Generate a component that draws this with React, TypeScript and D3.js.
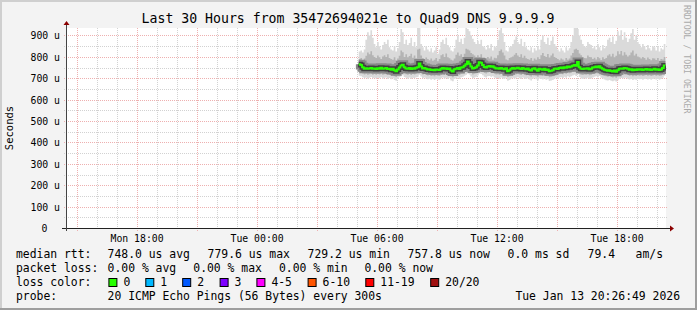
import React from "react";
import * as d3 from "d3";

const W = 697;
const H = 310;
const END = Date.UTC(2026, 0, 13, 20, 26, 49);
const START = END - 30 * 3600 * 1000;
const FIRST = Date.UTC(2026, 0, 13, 5, 5, 0);
const STEP = 300 * 1000;

const titleText = "Last 30 Hours from 35472694021e to Quad9 DNS 9.9.9.9";

// median rtt in microseconds
const median = [
  766, 762, 752,
  745, 747, 744, 746, 748, 745, 746, 743,
  747, 745, 749, 744, 746, 748, 743, 745,
  740, 744, 737, 733, 741, 750,
  760, 763, 752,
  746, 744, 748, 743, 747, 745, 749, 752,
  769,
  755, 746, 748, 745,
  741, 742, 739, 740, 738, 741, 740, 739,
  745, 748, 744, 747, 743, 746,
  736, 732, 742,
  745, 748, 743, 750, 752, 758, 765,
  778,
  768, 755,
  746, 748, 752, 760,
  775, 772,
  762, 753, 750,
  755, 757, 754, 756,
  750, 746,
  747, 744, 748, 745, 742, 747,
  733, 738,
  745, 748, 744, 747, 749, 746, 743, 748, 745, 742,
  746, 740, 736, 744, 747, 741, 735, 745,
  742, 740, 744, 739, 741,
  733, 735, 738,
  744, 746, 743, 748, 750, 747, 752, 749, 755,
  751, 755, 758,
  762, 758,
  776,
  752, 745, 743, 746, 744, 747, 742, 745,
  750, 752, 755, 751, 756, 749, 745,
  740, 737, 735, 738, 734, 732, 736, 731, 737,
  744, 746, 745, 748, 747, 744,
  740, 742, 738, 741, 739, 742,
  740, 742, 739, 741, 743, 740, 742, 739, 741, 744, 740, 742, 739, 741,
  748, 760,
];

// highest ping per step
const smokeMax = [
  825, 830, 820, 835,
  880, 915, 900, 925, 890,
  860, 845, 870, 850, 835, 855,
  870, 860, 880, 845,
  835, 830, 850, 825, 840,
  870, 930, 915, 860,
  880, 855, 865, 890, 850, 870, 845,
  935, 940,
  860, 845, 830, 850,
  835, 825, 840, 820, 830, 845, 815, 835,
  870, 880, 860, 890, 855, 845,
  830, 825, 840,
  880, 900, 870, 885, 860,
  890, 935, 930, 920, 900, 885, 870, 860,
  875, 860, 880, 850,
  845, 835, 855, 840, 860, 830, 850, 845,
  880, 925, 935, 910, 870,
  830, 825, 845, 850, 860,
  880, 895, 870, 860, 885, 850, 870, 845,
  835, 830, 845, 820, 840, 830, 850, 835,
  880, 900, 870, 860, 890, 855, 875, 895, 860, 850,
  835, 825, 840, 830, 820, 845, 830, 840,
  870, 900, 935, 940, 930, 900, 880, 860, 850,
  845, 870, 860, 855, 840,
  850, 835, 860, 845, 830, 855, 840, 850,
  880, 890, 870, 895, 860, 875,
  920, 900, 925, 880, 915, 890, 870, 885,
  910, 930, 880, 900, 870, 860,
  845, 860, 850, 835, 855, 840, 830, 850,
  845, 830, 850, 825, 840, 835, 860,
];

// upper pings (about 90th percentile)
const smokeHi = [
  790, 795, 785, 792,
  805, 820, 812, 826, 808,
  800, 795, 806, 798, 790, 802,
  808, 800, 812, 795,
  790, 786, 798, 784, 792,
  805, 830, 822, 800,
  812, 798, 804, 815, 796, 806, 794,
  835, 838,
  806, 795, 788, 797,
  790, 784, 792, 782, 787, 795, 780, 790,
  808, 812, 800, 816, 798, 794,
  786, 783, 792,
  810, 820, 805, 812, 800,
  815, 838, 835, 830, 818, 812, 806, 800,
  808, 800, 812, 795,
  794, 788, 800, 792, 802, 786, 796, 793,
  808, 828, 835, 820, 806,
  788, 784, 795, 798, 802,
  810, 818, 806, 800, 812, 796, 805, 793,
  790, 786, 795, 782, 792, 786, 798, 790,
  808, 818, 804, 800, 814, 797, 806, 816, 800, 795,
  790, 784, 792, 788, 782, 795, 787, 792,
  806, 818, 835, 838, 832, 816, 808, 800, 795,
  793, 806, 800, 798, 790,
  796, 788, 800, 794, 785, 798, 790, 795,
  806, 812, 802, 815, 798, 805,
  826, 812, 828, 806, 822, 810, 802, 808,
  820, 830, 806, 815, 802, 798,
  792, 800, 795, 786, 797, 790, 784, 794,
  792, 785, 795, 782, 790, 788, 800,
];

// lower pings (about 10th percentile)
const smokeLo = [
  730, 728, 722,
  718, 721, 716, 719, 722, 717, 720, 716,
  720, 718, 722, 716, 719, 721, 715, 718,
  713, 717, 710, 706, 714, 722,
  728, 731, 724,
  719, 716, 721, 715, 720, 718, 722, 724,
  735,
  726, 718, 721, 717,
  713, 715, 711, 713, 710, 714, 712, 711,
  717, 721, 716, 720, 715, 719,
  709, 705, 714,
  718, 721, 715, 722, 724, 729, 734,
  742,
  736, 726,
  718, 721, 724, 730,
  740, 738,
  732, 725, 722,
  727, 729, 725, 728,
  722, 718,
  719, 716, 721, 717, 714, 719,
  706, 710,
  717, 720, 716, 719, 722, 718, 715, 721, 717, 714,
  718, 712, 708, 716, 720, 713, 707, 717,
  714, 712, 717, 711, 713,
  705, 707, 710,
  716, 719, 715, 721, 722, 719, 724, 721, 727,
  723, 727, 730,
  733, 729,
  741,
  724, 717, 715, 718, 716, 719, 714, 717,
  722, 724, 727, 723, 728, 721, 717,
  712, 709, 707, 710, 706, 704, 708, 703, 709,
  716, 718, 717, 720, 719, 716,
  712, 714, 710, 713, 711, 714,
  712, 714, 711, 713, 715, 712, 714, 711, 713, 716, 712, 714, 711, 713,
  719, 730,
];

// lowest ping per step
const smokeMin = [
  712, 710, 705,
  700, 704, 698, 702, 706, 700, 703, 699,
  703, 700, 705, 698, 702, 704, 697, 701,
  695, 700, 692, 688, 697, 705,
  710, 714, 706,
  702, 698, 704, 697, 703, 700, 705, 707,
  716,
  708, 700, 704, 699,
  695, 698, 693, 696, 692, 697, 694, 693,
  700, 704, 698, 703, 697, 702,
  690, 686, 696,
  700, 704, 697, 705, 707, 712, 716,
  722,
  718, 708,
  700, 704, 707, 713,
  722, 720,
  714, 707, 704,
  709, 711, 707, 710,
  704, 700,
  701, 698, 704, 699, 696, 702,
  688, 692,
  699, 703, 698, 702, 705, 700, 697, 704, 699, 696,
  700, 694, 690, 698, 703, 695, 689, 699,
  696, 694, 699, 693, 695,
  687, 689, 692,
  698, 702, 697, 704, 705, 701, 707, 703, 710,
  705, 710, 713,
  716, 711,
  722,
  706, 699, 697, 700, 698, 702, 696, 699,
  704, 707, 710, 705, 711, 703, 699,
  694, 691, 689, 692, 688, 686, 690, 685, 691,
  698, 701, 699, 703, 702, 698,
  694, 697, 692, 695, 693, 697,
  695, 697, 693, 696, 698, 694, 697, 693, 696, 699, 694, 697, 693, 696,
  702, 712,
];

const yMajor = [0, 100, 200, 300, 400, 500, 600, 700, 800, 900];
const yMinor = [50, 150, 250, 350, 450, 550, 650, 750, 850];
const yLabels = ["0", "100 u", "200 u", "300 u", "400 u", "500 u", "600 u", "700 u", "800 u", "900 u"];

const xLabelTimes = [
  Date.UTC(2026, 0, 12, 18, 0, 0),
  Date.UTC(2026, 0, 13, 0, 0, 0),
  Date.UTC(2026, 0, 13, 6, 0, 0),
  Date.UTC(2026, 0, 13, 12, 0, 0),
  Date.UTC(2026, 0, 13, 18, 0, 0),
];
const xLabels = ["Mon 18:00", "Tue 00:00", "Tue 06:00", "Tue 12:00", "Tue 18:00"];

const rttLegend = [
  { text: "median rtt:", x: 16 },
  { text: "748.0 us avg", x: 107.6 },
  { text: "779.6 us max", x: 207.6 },
  { text: "729.2 us min", x: 307.6 },
  { text: "757.8 us now", x: 407.6 },
  { text: "0.0 ms sd", x: 507.6 },
  { text: "79.4", x: 587.6 },
  { text: "am/s", x: 635.6 },
];
const lossLegend = [
  { text: "packet loss:", x: 16 },
  { text: "0.00 % avg", x: 107.6 },
  { text: "0.00 % max", x: 193.3 },
  { text: "0.00 % min", x: 279 },
  { text: "0.00 % now", x: 364.4 },
];
const lossColorLabels = ["0", "1", "2", "3", "4-5", "6-10", "11-19", "20/20"];
const lossColors = ["#26ff00", "#00b8ff", "#0059ff", "#7e00ff", "#ff00ff", "#ff5500", "#ff0000", "#a01010"];
const lossSwatchX = [108.4, 145.3, 182.2, 219.6, 256.4, 307.6, 365.3, 430.2];

const MONO = "'DejaVu Sans Mono', monospace";

export default function App() {
  const n = Math.min(median.length, smokeMax.length, smokeHi.length, smokeLo.length, smokeMin.length);
  const X0 = 66, X1 = 666, Y0 = 228, Y1 = 28;
  const x = d3.scaleLinear().domain([START, END]).range([X0, X1]);
  const y = d3.scaleLinear().domain([0, 935]).range([Y0, Y1]);

  const pts = d3.range(n + 1).map((i) => ({ t: FIRST + i * STEP, k: Math.min(i, n - 1) }));
  const band = (lo: number[], hi: number[]) =>
    d3.area<any>()
      .x((p) => x(p.t))
      .y0((p) => y(lo[p.k]))
      .y1((p) => y(hi[p.k]))
      .curve(d3.curveStepAfter)(pts) || "";
  const medLine =
    d3.line<any>()
      .x((p) => x(p.t))
      .y((p) => y(median[p.k]))
      .curve(d3.curveStepAfter)(pts) || "";

  const hours = d3.utcHour.range(new Date(START), new Date(END));
  const crisp = (v: number) => Math.round(v) + 0.5;

  return (
    <svg
      width={W}
      height={H}
      style={{ position: "fixed", left: 0, top: 0, display: "block" }}
      xmlns="http://www.w3.org/2000/svg"
    >
      <rect x={0} y={0} width={W} height={H} fill="#f3f3f3" />
      {/* border shading */}
      <rect x={0} y={0} width={W} height={2} fill="#cfcfcf" />
      <rect x={0} y={0} width={2} height={H} fill="#cfcfcf" />
      <rect x={W - 2} y={0} width={2} height={H} fill="#9e9e9e" />
      <rect x={0} y={H - 2} width={W} height={2} fill="#9e9e9e" />

      {/* canvas */}
      <rect x={X0} y={Y1} width={X1 - X0} height={Y0 - Y1} fill="#ffffff" />

      {/* minor grid */}
      {hours.filter((h) => h.getUTCHours() % 3 !== 0).map((h, i) => (
        <line key={"vm" + i} x1={crisp(x(+h))} x2={crisp(x(+h))} y1={Y1} y2={Y0}
          stroke="#d2d2d2" strokeDasharray="1,1" strokeWidth={1} />
      ))}
      {yMinor.map((v, i) => (
        <line key={"hm" + i} x1={X0 - 2} x2={X1 + 2} y1={crisp(y(v))} y2={crisp(y(v))}
          stroke="#d2d2d2" strokeDasharray="1,1" strokeWidth={1} />
      ))}
      {/* major grid */}
      {hours.filter((h) => h.getUTCHours() % 3 === 0).map((h, i) => (
        <line key={"vM" + i} x1={crisp(x(+h))} x2={crisp(x(+h))} y1={Y1} y2={Y0 + 3}
          stroke="#eeb0b0" strokeDasharray="1,1" strokeWidth={1} />
      ))}
      {yMajor.filter((v) => v > 0).map((v, i) => (
        <line key={"hM" + i} x1={X0 - 2} x2={X1 + 2} y1={crisp(y(v))} y2={crisp(y(v))}
          stroke="#eeb0b0" strokeDasharray="1,1" strokeWidth={1} />
      ))}

      <defs>
        <clipPath id="plotclip">
          <rect x={X0} y={Y1} width={X1 - X0} height={Y0 - Y1} />
        </clipPath>
      </defs>
      <g clipPath="url(#plotclip)">
        <path d={band(smokeMin, smokeMax)} fill="#dadada" />
        <path d={band(smokeLo, smokeHi)} fill="#b4b4b4" />
        <path d={medLine} fill="none" stroke="#888888" strokeWidth={9} />
        <path d={medLine} fill="none" stroke="#404040" strokeWidth={5} />
        <path d={medLine} fill="none" stroke="#26ff00" strokeWidth={2} />
      </g>

      {/* axes */}
      <line x1={62} x2={670} y1={Y0 + 0.5} y2={Y0 + 0.5} stroke="#222" strokeWidth={1} />
      <path d={`M${670},${Y0 - 2.5} L${674},${Y0 + 0.5} L${670},${Y0 + 3.5} Z`} fill="#8b0000" />
      <line x1={X0 + 0.5} x2={X0 + 0.5} y1={Y0 + 3} y2={Y1 - 4} stroke="#444" strokeWidth={1} />
      <path d={`M${X0 - 2.5},${Y1 - 3} L${X0 + 0.5},${Y1 - 7} L${X0 + 3.5},${Y1 - 3} Z`} fill="#8b0000" />

      {/* y labels */}
      {yMajor.map((v, i) => (
        <text key={"yl" + i} x={v === 0 ? 47.5 : 60} y={crisp(y(v))} dy="0.35em" textAnchor="end"
          fontFamily={MONO} fontSize={9.8} fill="#000">
          {yLabels[i]}
        </text>
      ))}
      {/* x labels */}
      {xLabelTimes.map((t, i) => (
        <text key={"xl" + i} x={x(t)} y={241.5} textAnchor="middle" fontFamily={MONO} fontSize={9.8} fill="#000">
          {xLabels[i]}
        </text>
      ))}

      {/* y title */}
      <text transform="translate(13,128) rotate(-90)" textAnchor="middle" fontFamily={MONO} fontSize={10.5} fill="#000">
        Seconds
      </text>

      {/* title */}
      <text x={348} y={23} textAnchor="middle" fontFamily={MONO} fontSize={13.2} fill="#000">
        {titleText}
      </text>

      {/* watermark */}
      <text transform="translate(684,5) rotate(90)" fontFamily={MONO} fontSize={8.2} fill="#aaaaaa">
        RRDTOOL / TOBI OETIKER
      </text>

      {/* legend */}
      {rttLegend.map((d, i) => (
        <text key={"rl" + i} x={d.x} y={258} fontFamily={MONO} fontSize={11.4} fill="#000">{d.text}</text>
      ))}
      {lossLegend.map((d, i) => (
        <text key={"ll" + i} x={d.x} y={272} fontFamily={MONO} fontSize={11.4} fill="#000">{d.text}</text>
      ))}
      <text x={16} y={286} fontFamily={MONO} fontSize={11.4} fill="#000">loss color:</text>
      {lossColorLabels.map((l, i) => (
        <g key={"lc" + i}>
          <rect x={lossSwatchX[i] + 0.5} y={278.5} width={8} height={8} fill={lossColors[i]} stroke="#000" strokeWidth={1} />
          <text x={lossSwatchX[i] + 15} y={286} fontFamily={MONO} fontSize={11.4} fill="#000">{l}</text>
        </g>
      ))}
      <text x={16} y={300} fontFamily={MONO} fontSize={11.4} fill="#000">probe:</text>
      <text x={107.6} y={300} fontFamily={MONO} fontSize={11.4} fill="#000">20 ICMP Echo Pings (56 Bytes) every 300s</text>
      <text x={680} y={300} textAnchor="end" fontFamily={MONO} fontSize={11.4} fill="#000">Tue Jan 13 20:26:49 2026</text>
    </svg>
  );
}
